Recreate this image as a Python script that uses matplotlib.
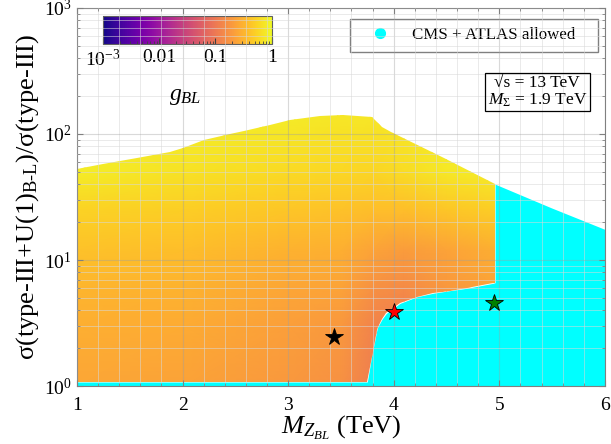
import numpy as np
import matplotlib
matplotlib.use('Agg')
import matplotlib.pyplot as plt
import matplotlib.ticker as tck
from matplotlib.colors import LogNorm
from matplotlib.patches import Polygon
from matplotlib.lines import Line2D

plt.rcParams['font.family'] = ['Liberation Serif', 'DejaVu Serif']
plt.rcParams['mathtext.fontset'] = 'custom'
plt.rcParams['mathtext.rm'] = 'Liberation Serif'
plt.rcParams['mathtext.it'] = 'Liberation Serif:italic'
plt.rcParams['mathtext.bf'] = 'Liberation Serif:bold'

# upper edge of the scanned region (M_ZBL in TeV, cross-section ratio)
upper_x = [1.0, 1.25, 1.57, 1.88, 2.0, 2.2, 2.45, 2.58, 2.83, 3.02, 3.3,
           3.52, 3.79, 3.89, 3.97, 4.48, 4.96, 5.49, 6.0]
upper_y = [53, 58, 65, 72, 77, 90, 100, 106, 118, 129, 140,
           142, 137, 114, 104, 64, 40, 26, 17.5]

# lower edge of the excluded points / top of the allowed band
edge_x = [3.75, 3.79, 3.84, 3.85, 3.89, 3.93, 4.06, 4.22, 4.37, 4.53,
          4.69, 4.94, 4.96]
edge_y = [1.076, 1.71, 2.78, 2.96, 3.4, 3.77, 4.53, 5.11, 5.44, 5.71,
          5.96, 6.53, 6.6]
floor_y = 1.076

# g_BL over the scan (rows follow grid_y, columns follow grid_x)
grid_x = [1.0, 2.0, 3.0, 3.5, 3.8, 4.1, 4.5, 5.0]
grid_y = [1, 3, 6, 12, 25, 50, 150]
g_bl = [[0.25, 0.23, 0.19, 0.166, 0.11, 0.089, 0.135, 0.19],
        [0.29, 0.27, 0.22, 0.19, 0.126, 0.10, 0.155, 0.204],
        [0.33, 0.31, 0.25, 0.234, 0.166, 0.145, 0.19, 0.234],
        [0.41, 0.38, 0.31, 0.29, 0.234, 0.204, 0.234, 0.29],
        [0.54, 0.50, 0.44, 0.41, 0.38, 0.38, 0.44, 0.50],
        [0.81, 0.70, 0.60, 0.58, 0.56, 0.62, 0.76, 0.81],
        [0.87, 0.87, 0.81, 0.76, 0.76, 0.76, 0.87, 0.87]]

# benchmark points
bench_x = [3.43, 4.0, 4.95]
bench_y = [2.45, 3.9, 4.6]
bench_c = ['black', 'red', 'green']

fig = plt.figure(figsize=(6.11, 4.44), dpi=100)
ax = fig.add_axes([0.126, 0.1306, 0.864, 0.8514])
ax.set_yscale('log')
ax.set_xlim(1, 6)
ax.set_ylim(1, 1000)

# allowed band (cyan)
n_up = upper_x.index(4.96)
cyan_x = [1.0] + edge_x + upper_x[n_up:]
cyan_top = [floor_y] + edge_y + upper_y[n_up:]
ax.fill_between(cyan_x, 1, cyan_top, color='#00ffff', lw=0, zorder=1)

# coloured scan points, clipped to the scanned region
gx, gy = np.meshgrid(grid_x, grid_y)
mesh = ax.pcolormesh(gx, gy, np.array(g_bl), shading='gouraud',
                     cmap='plasma', norm=LogNorm(1e-3, 1), zorder=1.2)
region = np.column_stack([
    upper_x[:n_up + 1] + edge_x[::-1] + [1.0],
    upper_y[:n_up + 1] + edge_y[::-1] + [floor_y]])
clip = Polygon(region, closed=True, transform=ax.transData,
               fc='none', ec='none')
ax.add_patch(clip)
mesh.set_clip_path(clip)

for bx, by, bc in zip(bench_x, bench_y, bench_c):
    ax.plot(bx, by, marker='*', ms=13, mfc=bc, mec='black', mew=0.6,
            ls='none', zorder=4)

# grid over the data, MATLAB style
ax.set_axisbelow(False)
ax.xaxis.set_minor_locator(tck.AutoMinorLocator(5))
ax.grid(which='major', color='#a0a0a0', alpha=0.4, lw=0.8)
ax.grid(which='minor', color='#d8d8d8', alpha=0.55, lw=0.7)
for s in ax.spines.values():
    s.set_color('#808080')
ax.tick_params(which='both', direction='in', top=True, right=True,
               color='#808080', labelsize=14)
ax.tick_params(which='major', length=4)
ax.tick_params(which='minor', length=2)
ax.tick_params(axis='x', pad=8)

ax.set_xlabel(r'$M_{Z_{BL}}$ (TeV)', fontsize=19, labelpad=0)
ax.set_ylabel(r'σ(type-III+U(1)$_{\text{B-L}}$)/σ(type-III)',
              fontsize=19, labelpad=2)

# colour bar inside the axes
cax = ax.inset_axes([0.049, 0.905, 0.32, 0.074])
cax.set_zorder(2)
cb = fig.colorbar(mesh, cax=cax, orientation='horizontal')
cb.set_ticks([1e-3, 1e-2, 1e-1, 1])
cb.set_ticklabels([r'$10^{-3}$', '0.01', '0.1', '1'])
cb.minorticks_on()
cb.outline.set_edgecolor('#606060')
cax.tick_params(which='both', direction='in', labelsize=14, color='#404040')
cax.tick_params(which='major', length=4)
cax.tick_params(which='minor', length=2)
ax.text(0.205, 0.765, r'$g_{BL}$', transform=ax.transAxes, fontsize=17,
        ha='center', va='center')

leg_handle = Line2D([], [], marker='o', ls='none', color='#00ffff',
                    ms=7)
leg = ax.legend([leg_handle], ['CMS + ATLAS allowed'], loc='upper right',
                bbox_to_anchor=(0.517, 0.87, 0.47, 0.101), mode='expand',
                borderaxespad=0, fontsize=12.2, fancybox=False,
                framealpha=1, facecolor='none', edgecolor='#808080',
                borderpad=0.5, handlelength=2.6, handletextpad=0.56)
leg.get_frame().set_linewidth(1.0)
leg.set_zorder(2)

ax.text(0.872, 0.778, '√s = 13 TeV\n' + r'$M_{\mathit{Σ}}$ = 1.9 TeV',
        transform=ax.transAxes, fontsize=12.5, ha='center', va='center',
        linespacing=1.0,
        bbox=dict(boxstyle='square,pad=0.15', fc='none', ec='black',
                  lw=0.9))

fig.savefig('out.png', dpi=100)
